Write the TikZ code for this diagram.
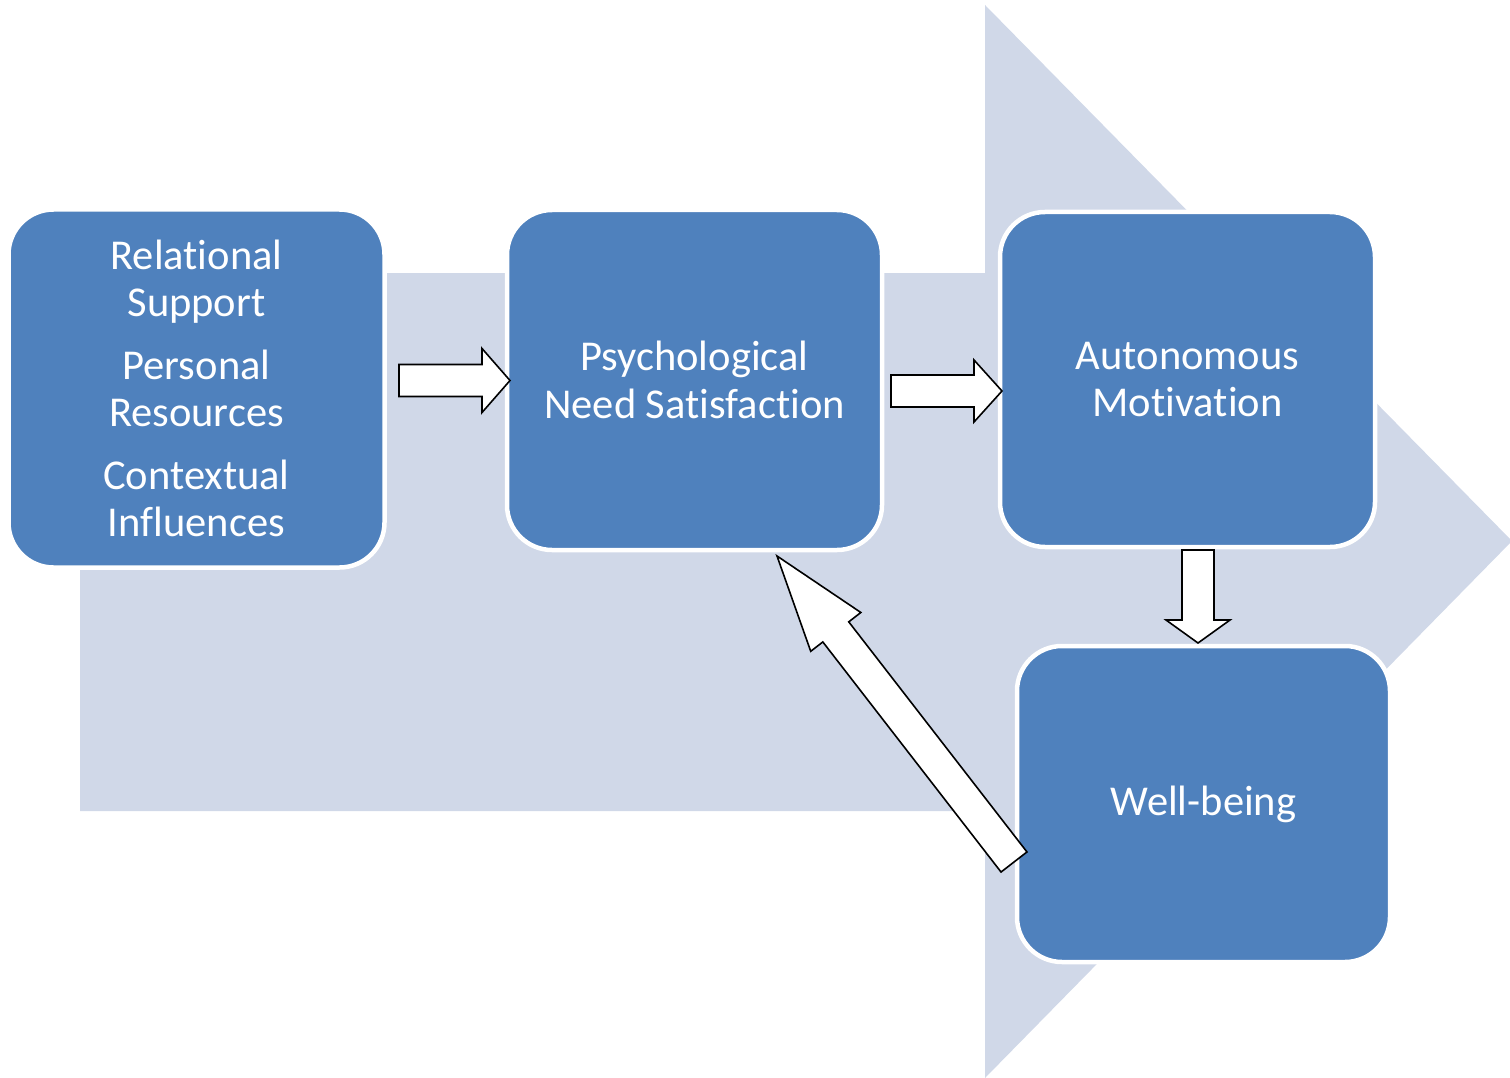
\documentclass[tikz,border=0pt]{standalone}
\usepackage{fontspec}
\setmainfont[Ligatures={NoCommon,NoContextual,NoRare},Contextuals=NoAlternate]{Carlito}
\usetikzlibrary{calc}

\definecolor{bandfill}{HTML}{D0D8E8}
\definecolor{boxfill}{HTML}{4F81BD}

% block arrow: #1 tail, #2 tip, #3 shaft half width, #4 head half width, #5 head length
\newcommand{\blockarrow}[5]{%
  \draw[barrow] let \p1=(#1), \p2=(#2), \n1={atan2(\y2-\y1,\x2-\x1)} in
    ($(#1)+(\n1+90:#3)$)
    -- ($(#2)+(\n1+180:#5)+(\n1+90:#3)$)
    -- ($(#2)+(\n1+180:#5)+(\n1+90:#4)$)
    -- (#2)
    -- ($(#2)+(\n1+180:#5)+(\n1-90:#4)$)
    -- ($(#2)+(\n1+180:#5)+(\n1-90:#3)$)
    -- ($(#1)+(\n1-90:#3)$) -- cycle;}

\begin{document}
\begin{tikzpicture}[x=1pt,y=-1pt,
  stagebox/.style={draw=white, line width=4.5pt, fill=boxfill, rounded corners=45pt,
    text=white, align=center, inner sep=0pt,
    font=\fontsize{42.5}{47.5}\selectfont},
  barrow/.style={draw=black, line width=1.6pt, fill=white, line join=miter},
  band/.style={fill=bandfill, draw=none}]

\useasboundingbox (0,0) rectangle (1510,1078);

% wide background arrow
\path[band] (80,273) -- (985,273) -- (985,5) -- (1512,541) -- (985,1078)
  -- (985,811) -- (80,811) -- cycle;

% stages
\node[stagebox, minimum width=376pt, minimum height=358pt] (inputs) at (196.5,388.5)
  {Relational\\Support\\[15pt]Personal\\Resources\\[15pt]Contextual\\Influences};
\node[stagebox, minimum width=375pt, minimum height=340pt] (needs) at (694.5,380)
  {Psychological\\Need Satisfaction};
\node[stagebox, minimum width=375pt, minimum height=335pt] (motiv) at (1187.5,379.5)
  {Autonomous\\Motivation};
\node[stagebox, minimum width=373pt, minimum height=316pt] (well) at (1203.5,804)
  {Well-being};

% arrow end points
\coordinate (a1s) at (399,380.5);
\coordinate (a1e) at (510,380.5);
\coordinate (a2s) at (891,391);
\coordinate (a2e) at (1002,391);
\coordinate (a3s) at (1198,550);
\coordinate (a3e) at (1198,643);
\coordinate (a4s) at (1014,862);
\coordinate (a4e) at (777,556);

\blockarrow{a1s}{a1e}{16pt}{32pt}{28pt}
\blockarrow{a2s}{a2e}{16pt}{31pt}{28pt}
\blockarrow{a3s}{a3e}{16pt}{32pt}{23pt}
\blockarrow{a4s}{a4e}{16.4pt}{31.7pt}{96pt}

\end{tikzpicture}
\end{document}
